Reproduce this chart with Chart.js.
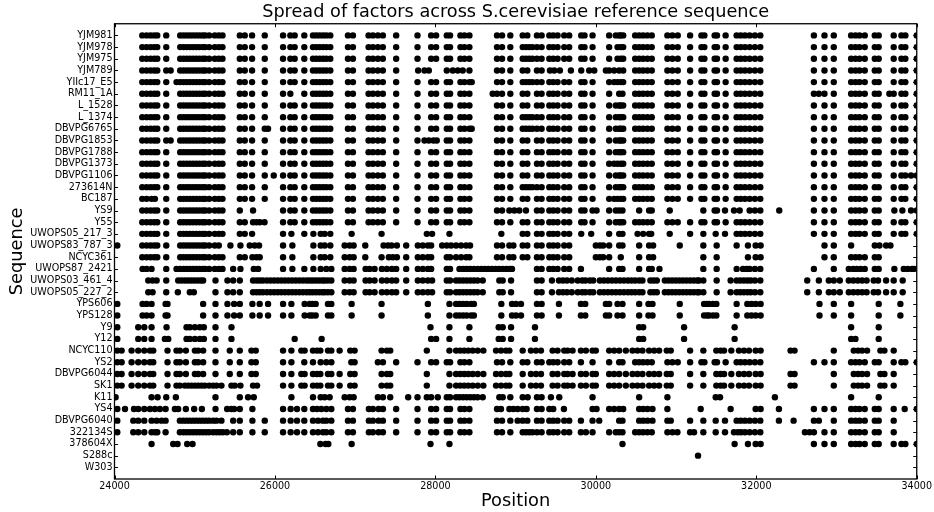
<!DOCTYPE html>
<html>
<head>
<meta charset="utf-8">
<title>Spread of factors</title>
<script src="https://cdn.jsdelivr.net/npm/chart.js@4/dist/chart.umd.min.js"></script>
<style>
  html, body { margin: 0; padding: 0; background: #fff; }
  canvas { display: block; }
</style>
</head>
<body>
<canvas id="spread" width="934" height="512"></canvas>
<script>
// Sequence names, top row first
const rowLabels = ['YJM981', 'YJM978', 'YJM975', 'YJM789', 'YIIc17_E5', 'RM11_1A', 'L_1528', 'L_1374',
  'DBVPG6765', 'DBVPG1853', 'DBVPG1788', 'DBVPG1373', 'DBVPG1106', '273614N', 'BC187', 'YS9', 'Y55',
  'UWOPS05_217_3', 'UWOPS83_787_3', 'NCYC361', 'UWOPS87_2421', 'UWOPS03_461_4', 'UWOPS05_227_2',
  'YPS606', 'YPS128', 'Y9', 'Y12', 'NCYC110', 'YS2', 'DBVPG6044', 'SK1', 'K11', 'YS4', 'DBVPG6040',
  '322134S', '378604X', 'S288c', 'W303'];
const xTicks = [24000, 26000, 28000, 30000, 32000, 34000];

// Stretches of positions that many strains have in common
const headA = [24346, 24400, 24450, 24496, 24533, 24645];
const coreA = [24819, 24860, 24900, 24940, 24980, 25020, 25060, 25100, 25130, 25180, 25250, 25300, 25346];
const midA = [25562, 25624, 25715, 25873];
const leftB = [26101, 26192, 26246, 26366];
const blockC = [26474, 26516, 26558, 26600, 26641, 26690];
const midC = [26910, 26972, 27167, 27221, 27283, 27345, 27511];
const gapC = [27777, 27947, 28009, 28142, 28183, 28312, 28362, 28424];
const nextD = [28768, 28831, 28934];
const p1 = [29088, 29146];
const p1Long = [29088, 29129, 29170, 29210];
const gapP = [29266, 29324];
const p2 = [29420, 29469, 29523, 29606, 29668];
const p3 = [29818, 29859, 29959];
const p4 = [30166, 30249, 30291, 30311, 30341];
const p4Wide = [30166, 30270, 30311, 30341];
const p4Solid = [30166, 30228, 30270, 30311, 30341];
const p5 = [30490, 30540, 30589, 30643, 30697];
const p6 = [30892, 30954, 31021, 31175, 31316, 31353];
const p7 = [31481, 31510, 31618];
const p8 = [31755, 31805, 31859, 31917, 31983, 32050];
const endTrio = [32718, 32850, 32966];
const endBlock = [33182, 33236, 33286, 33352, 33477, 33526];
const endLast = [33713, 33809, 33858, 34000];
const right = [...p5, ...p6, ...p7, ...p8, ...endTrio, ...endBlock, ...endLast];
const left = [...headA, ...coreA, ...midA, ...leftB, ...blockC, ...midC];
const middle = [...gapC, ...nextD];

// Stretches shared by the more diverged strains
const uwopsTail = [25259, 25408, 25479, 25562, 25727, 25770, 25810, 25850, 25900, 25945, 25990, 26035, 26080,
  26125, 26170, 26215, 26260, 26305, 26350, 26395, 26433, 26470, 26510, 26550, 26590, 26620, 26660, 26703,
  26869, 26931, 26981, 27130, 27180, 27242, 27333, 27395, 27458, 27511, 27636, 27781, 27843, 27906, 27959,
  28142, 28183, 28258, 28300, 28345, 28390, 28435, 28480, 28525, 28590, 28797, 28839, 28943, 29266, 29324,
  29453, 29540, 29590, 29640, 29700, 29775, 29830, 29870, 29925, 29967, 30050, 30100, 30150, 30200, 30250,
  30300, 30350, 30400, 30445, 30490, 30540, 30581, 30680, 30720, 30760, 30860, 30905, 30950, 30995, 31040,
  31085, 31130, 31175, 31220, 31265, 31285, 31340, 31506, 31680, 31755, 31800, 31845, 31890, 31930, 31983,
  32050, 32635, 32780, 32904, 32966, 33041, 33153, 33210, 33265, 33319, 33375, 33464, 33518, 33618, 33713,
  33825];
const yps = [24035, 24350, 24400, 24462, 24637, 24661, 25105, 25259, 25408, 25491, 25562, 25719, 25810, 25914,
  26101, 26205, 26370, 26433, 26466, 26508, 26661, 26703, 26956, 27329, 27906, 28175, 28258, 28300, 28345,
  28390, 28445, 28480, 28822, 28955, 29005, 29067, 29266, 29324, 29540, 29814, 29868, 30125, 30166, 30270,
  30332, 30540, 30656, 30706, 31046, 31349, 31385, 31411, 31460, 31502, 31755, 31888, 31940, 31992, 32054,
  32788, 32966, 33182, 33526, 33796];
const ncycLeft = [24035, 24089, 24213, 24296, 24371, 24442, 24483, 24661, 24773, 24815, 24890, 25002, 25043,
  25105, 25259, 25437, 25562, 25707, 25761, 26101, 26205];
const ncycRight = [26474, 26524, 26566, 26661, 26703, 26806, 26939, 26993, 27329, 27395, 27437, 27893, 28175,
  28258, 28310, 28360, 28410, 28465, 28528, 28598, 28756, 28818, 28880, 28922, 29088, 29191, 29254, 29316,
  29461, 29523, 29606, 29648, 29710, 29814, 29876, 29959, 30000, 30166, 30228, 30291, 30374, 30457, 30519,
  30581, 30664, 30727, 30789, 30884, 30934, 31175, 31340, 31502, 31556, 31598, 31689, 31784, 31847, 31909,
  31992, 32054, 32427, 32477, 32966, 33215, 33269, 33319, 33381, 33547, 33597, 33713];
const commonD = [26474, 26537, 26599, 26640, 26703, 26910, 26972, 27171, 27221, 27292, 27346, 27511, 27777,
  27947, 28009, 28142, 28183, 28312, 28362, 28424, 28768, 28831, 28934];

// Positions per sequence, same order as rowLabels
const rowPositions = [
  [...left, ...middle, ...p1, ...gapP, ...p2, ...p3, ...p4, ...right],
  [...left, ...middle, ...p1Long, ...gapP, ...p2, ...p3, ...p4Wide, ...right],
  [...left, ...middle, ...p1Long, ...gapP, ...p2, ...p3, ...p4Wide, ...right],
  [...headA, 24700, ...coreA, ...midA, ...leftB, ...blockC, ...midC, 27785, 27864, 27918, 28142, 28217, 28279,
    28341, 28424, ...nextD, ...p1, ...gapP, 29428, 29481, 29552, 29689, 29818, 29917, 29980, 30125, 30166,
    30228, 30291, 30341, ...right],
  [...headA, 24773, ...coreA, ...midA, ...leftB, ...blockC, ...midC, ...gapC, 28453, ...nextD, ...p1Long, ...gapP,
    ...p2, ...p3, ...p4Solid, ...right],
  [...headA, ...coreA, ...midA, 26101, 26192, 26366, ...blockC, ...midC, ...gapC, 28714, ...nextD, ...p1, ...gapP,
    ...p2, ...p3, 30166, 30291, 30332, ...p5, ...p6, ...p7, ...p8, 32718, 32780, 32850, 32966, ...endBlock,
    33659, ...endLast],
  [...left, ...middle, ...p1, ...gapP, ...p2, ...p3, ...p4, ...right],
  [...left, ...middle, ...p1Long, ...gapP, ...p2, ...p3, ...p4, ...right],
  [...headA, ...coreA, 25562, 25624, 25715, 25873, 25914, ...leftB, ...blockC, ...midC, ...gapC, 28453, ...nextD,
    ...p1Long, ...gapP, ...p2, ...p3, ...p4, ...right],
  [...headA, 24700, ...coreA, ...midA, ...leftB, ...blockC, ...midC, 27777, 27864, 27918, 27976, 28017, 28142,
    28183, 28312, 28362, 28424, ...nextD, ...p1, ...gapP, ...p2, ...p3, ...p4, ...right],
  [...left, ...middle, ...p1, ...gapP, ...p2, ...p3, ...p4, ...right],
  [...left, ...middle, ...p1, ...gapP, ...p2, ...p3, ...p4Solid, ...right],
  [...headA, ...coreA, ...midA, 25985, ...leftB, ...blockC, ...midC, ...middle, ...p1, ...gapP, ...p2, ...p3,
    ...p4, ...p5, ...p6, ...p7, ...p8, ...endTrio, ...endBlock, 33713, 33809, 33858, 33929, 34000],
  [...left, ...middle, ...p1Long, ...gapP, ...p2, ...p3, ...p4, ...right],
  [24346, 24400, 24462, 24504, 24645, ...coreA, ...midA, ...leftB, ...blockC, ...midC, ...middle, ...p1, ...gapP,
    ...p2, ...p3, ...p4Solid, ...right],
  [...headA, ...coreA, 25562, 25727, ...leftB, ...blockC, ...midC, ...gapC, 28768, 28831, 28922, 28984, 29046,
    29129, ...gapP, ...p2, 29818, 29859, 29959, 30009, 30166, 30249, 30291, 30332, 30540, 30664, 30697, 30921,
    31340, 31481, 31510, 31610, 31722, 31793, 31917, 31983, 32050, 32286, ...endTrio, ...endBlock, 33721, 33821,
    33929, 34000],
  [...headA, ...coreA, 25562, 25624, 25727, 25769, 25810, 25870, ...leftB, ...blockC, ...midC, ...middle, ...p1,
    ...gapP, ...p2, ...p3, ...p4, ...right],
  [...headA, ...coreA, 25562, 25624, 25715, 26101, 26205, 26366, 26479, 26570, 26620, 26690, 26956, 27329, 27893,
    27959, 28175, 28822, 29088, 29146, ...gapP, ...p2, 29818, 29942, 30166, 30291, 30332, 30520, 30590, 30664,
    30690, 30921, 31175, 31340, 31494, 31610, ...p8, ...endTrio, ...endBlock, ...endLast],
  [24035, ...headA, 24819, 24860, 24900, 24940, 24980, 25020, 25060, 25100, 25130, 25180, 25250, 25300, 25445,
    25570, 25686, 25748, 25802, 26101, 26217, 26479, 26570, 26620, 26690, 26869, 26931, 26981, 27126, 27354,
    27408, 27453, 27520, 27636, 27781, 27843, 27906, 27947, 28084, 28142, 28196, 28258, 28320, 28383, 28432,
    28768, 28831, 28922, 28972, 29088, 29146, ...gapP, ...p2, 30000, 30050, 30091, 30166, 30291, 30332, 30540,
    30664, 30714, 31046, 31340, 31506, 31755, 31896, 31992, 32054, 32850, 32966, 33182, 33477, 33535, 33618,
    33672],
  [...headA, ...coreA, 25562, 25624, 25719, 25769, 25810, 26101, 26217, 26479, 26570, 26620, 26690, 26869, 26931,
    26981, 27126, 27329, 27420, 27470, 27520, 27636, 27781, 27843, 27906, 27947, 28142, 28183, 28258, 28320,
    28383, 28424, 28768, 28831, 28922, 28972, 29088, 29146, ...gapP, ...p2, 30000, 30050, 30091, 30166, 30311,
    30540, 30664, 30714, 31340, 31506, 31896, 31992, 32054, 32850, 32966, ...endBlock],
  [24350, 24400, 24462, 24645, 24773, 24815, 24860, 24900, 24940, 24980, 25020, 25060, 25100, 25130, 25180, 25250,
    25300, 25346, 25479, 25570, 25736, 25790, 26101, 26217, 26366, 26479, 26570, 26640, 26703, 26869, 26931,
    26981, 27130, 27180, 27242, 27333, 27395, 27458, 27511, 27636, 27781, 27843, 27906, 27947, 28142, 28183,
    28300, 28345, 28390, 28435, 28480, 28525, 28570, 28615, 28660, 28705, 28750, 28795, 28840, 28885, 28930,
    28955, 29266, 29324, ...p2, 29814, 30166, 30291, 30332, 30540, 30664, 30697, 30793, 31340, 31506, 31755,
    31834, 31880, 31917, 31983, 32050, 32718, 32966, 33153, 33207, 33252, 33300, 33352, 33477, 33526, 33721,
    33838, 33887, 33941, 33970],
  [24421, 24475, 24525, 24645, 24794, 24835, 24875, 24915, 24955, 24995, 25035, 25075, 25105, ...uwopsTail],
  [24421, 24475, 24645, 24790, 24939, 24989, ...uwopsTail],
  [...yps],
  [...yps],
  [24035, 24296, 24371, 24462, 24649, 24898, 24939, 25002, 25064, 25114, 25259, 25458, 27939, 28175, 28424, 28789,
    28839, 28943, 29241, 30540, 30590, 31100, 31730, 33182, 33526],
  [24035, 24296, 24371, 24462, 24628, 24670, 24898, 24939, 25002, 25064, 25114, 25259, 25458, 26246, 26582, 27947,
    28009, 28175, 28424, 28789, 28839, 28943, 29241, 30540, 30590, 31100, 31730, 33182, 33236, 33526],
  [...ncycLeft, 26329, 26370, ...ncycRight],
  [...ncycLeft, 26366, 26474, 26570, 26640, 26703, 26952, 26993, 27283, 27346, 27511, 27777, 27947, 28009, 28142,
    28183, 28312, 28362, 28424, 28768, 28831, 28934, 29088, 29146, ...gapP, ...p2, 29814, 29959, 30166, 30291,
    30332, ...p5, ...p6, ...p7, ...p8, ...endTrio, ...endBlock, ...endLast],
  [...ncycLeft, 26329, 26370, ...ncycRight],
  [24035, 24089, 24213, 24296, 24371, 24442, 24483, 24661, 24773, 24815, 24877, 24919, 24960, 25002, 25043, 25085,
    25126, 25180, 25230, 25271, 25333, 25458, 25499, 25570, 25727, 25777, 26101, 26205, 26329, 26370, ...ncycRight],
  [24014, 24462, 24537, 24645, 24765, 25259, 25562, 25665, 25736, 26205, 26474, 26570, 26620, 26682, 26869, 26931,
    26981, 27283, 27346, 27437, 27661, 27777, 27893, 27947, 28030, 28142, 28183, 28258, 28300, 28345, 28390,
    28435, 28480, 28525, 28590, 28797, 28839, 28934, 29088, 29150, 29266, 29324, 29440, 29544, 29959, 30540,
    30892, 31494, 31548, 32232, 33182, 33526],
  [24035, 24131, 24243, 24296, 24371, 24442, 24504, 24566, 24637, 24753, 24794, 24890, 24993, 25089, 25259, 25404,
    25458, 25491, 25562, 25719, 26101, 26196, 26275, 26366, 26474, 26524, 26578, 26640, 26703, 26910, 26972,
    27171, 27221, 27292, 27346, 27511, 27777, 27947, 28009, 28142, 28183, 28312, 28362, 28424, 28768, 28818,
    28922, 28972, 29025, 29088, 29137, 29266, 29324, 29420, 29469, 29602, 29959, 30009, 30166, 30228, 30291,
    30341, 30540, 30590, 30644, 30706, 30892, 31307, 31680, 31992, 32054, 32282, ...endTrio, ...endBlock, 33713,
    33850, 34000],
  [24035, 24234, 24296, 24371, 24462, 24525, 24587, 24637, 24815, 24860, 24900, 24940, 24980, 25020, 25060, 25100,
    25140, 25180, 25230, 25271, 25333, 25479, 25562, 25719, 25873, 26101, 26196, 26275, 26366, ...commonD, 29025,
    29088, 29146, ...gapP, ...p2, 29814, 29959, 30042, 30291, 30332, 30540, 30590, 30644, 30706, 30892, 30934,
    31175, 31340, 31494, 31610, ...p8, 32282, 32465, 32718, 32780, 32966, ...endBlock, 33713],
  [24035, 24234, 24296, 24371, 24462, 24504, 24533, 24637, 24815, 24860, 24900, 24940, 24980, 25020, 25060, 25100,
    25140, 25180, 25230, 25271, 25310, 25350, 25400, 25479, 25562, 25719, 25873, 26101, 26196, 26275, 26366,
    ...commonD, ...p1Long, ...gapP, ...p2, 29814, 29876, 29959, 30166, 30249, 30291, 30332, ...p5, 30892, 30955,
    31017, 31175, 31224, 31340, 31494, 31610, 31722, 31770, 31810, 31859, 31917, 31983, 32050, 32606, 32664,
    32718, 32850, 32966, ...endBlock, 33713],
  [24462, 24732, 24786, 24906, 24973, 26566, 26632, 26665, 26956, 27939, 28175, 30332, 31730, 31896, 31992, 32054,
    ...endTrio, ...endBlock, ...endLast],
  [31274],
  []
];

// Build the scatter points, row 0 is drawn at the top
const rowCount = rowLabels.length;
const points = [];
rowPositions.forEach((row, i) => {
  row.forEach(pos => points.push({ x: pos, y: rowCount - 1 - i }));
});

// Frame with matplotlib style inward ticks on all four sides
const frameTicks = {
  id: 'frameTicks',
  afterDatasetsDraw(chart) {
    const { ctx, chartArea: a, scales } = chart;
    const len = 3.5;
    ctx.save();
    ctx.strokeStyle = '#000';
    ctx.lineWidth = 1;
    ctx.beginPath();
    xTicks.forEach(v => {
      const px = Math.round(scales.x.getPixelForValue(v)) + 0.5;
      ctx.moveTo(px, a.top); ctx.lineTo(px, a.top + len);
      ctx.moveTo(px, a.bottom); ctx.lineTo(px, a.bottom - len);
    });
    rowLabels.forEach((_, i) => {
      const py = Math.round(scales.y.getPixelForValue(i)) + 0.5;
      ctx.moveTo(a.left, py); ctx.lineTo(a.left + len, py);
      ctx.moveTo(a.right, py); ctx.lineTo(a.right - len, py);
    });
    ctx.stroke();
    ctx.lineWidth = 1.3;
    ctx.strokeRect(a.left, a.top, a.right - a.left, a.bottom - a.top);
    ctx.restore();
  }
};

const fontFamily = '"DejaVu Sans", sans-serif';

new Chart(document.getElementById('spread'), {
  type: 'scatter',
  data: {
    datasets: [{
      data: points,
      backgroundColor: '#000',
      borderColor: '#000',
      borderWidth: 0,
      pointRadius: 3.2,
      pointHoverRadius: 3.2
    }]
  },
  options: {
    responsive: false,
    animation: false,
    devicePixelRatio: 1,
    layout: { padding: { left: 0, right: 15.5, top: 0, bottom: 0 } },
    plugins: {
      legend: { display: false },
      tooltip: { enabled: false },
      title: {
        display: true,
        fullSize: false,
        text: 'Spread of factors across S.cerevisiae reference sequence',
        color: '#000',
        font: { family: fontFamily, size: 17.7, weight: 'normal' },
        padding: { top: 2, bottom: 0.5 }
      }
    },
    scales: {
      x: {
        type: 'linear',
        min: 24000,
        max: 34000,
        afterFit(scale) { scale.height = 33; },
        afterBuildTicks(scale) { scale.ticks = xTicks.map(v => ({ value: v })); },
        grid: { display: false, drawTicks: false },
        border: { display: false },
        ticks: {
          color: '#000',
          padding: 2,
          maxRotation: 0,
          font: { family: fontFamily, size: 9.6 },
          callback: v => String(v)
        },
        title: {
          display: true,
          text: 'Position',
          color: '#000',
          font: { family: fontFamily, size: 17.8 },
          padding: { top: 0.5, bottom: 0 }
        }
      },
      y: {
        type: 'linear',
        min: -1,
        max: rowCount,
        afterFit(scale) { scale.width = 114.5; },
        afterBuildTicks(scale) { scale.ticks = rowLabels.map((_, i) => ({ value: i })); },
        grid: { display: false, drawTicks: false },
        border: { display: false },
        ticks: {
          color: '#000',
          padding: 2,
          autoSkip: false,
          font: { family: fontFamily, size: 9.6 },
          callback: v => rowLabels[rowCount - 1 - v]
        },
        title: {
          display: true,
          text: 'Sequence',
          color: '#000',
          font: { family: fontFamily, size: 17.8 },
          padding: { top: 7, bottom: 0 }
        }
      }
    }
  },
  plugins: [frameTicks]
});
</script>
</body>
</html>
